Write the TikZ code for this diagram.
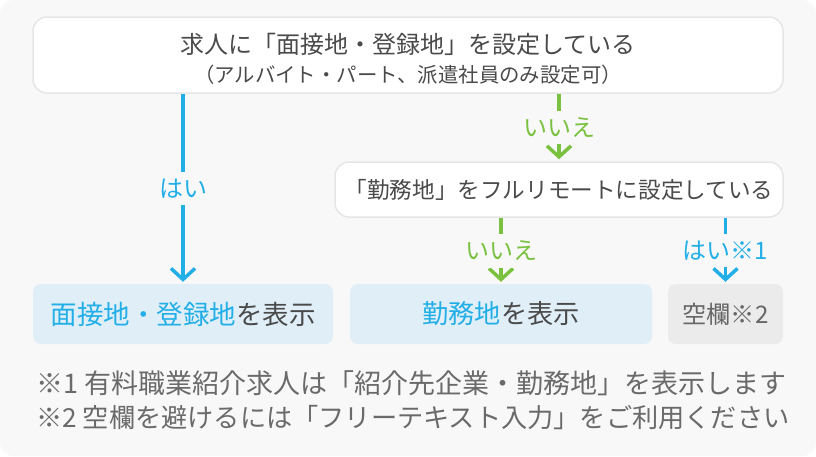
\documentclass[tikz,border=0pt]{standalone}
\usepackage{fontspec}
\setmainfont{Noto Sans CJK JP}
\usetikzlibrary{arrows.meta}
\definecolor{bg}{HTML}{F8F8F8}
\definecolor{boxline}{HTML}{E6E6E6}
\definecolor{txt}{HTML}{4A4A4A}
\definecolor{note}{HTML}{6A6A6A}
\definecolor{blu}{HTML}{22AEE6}
\definecolor{grn}{HTML}{7AC13F}
\definecolor{lblue}{HTML}{E0EEF8}
\definecolor{lgrey}{HTML}{EBEBEB}
\definecolor{gtxt}{HTML}{666666}
\tikzset{
  qbox/.style={draw=boxline, line width=1.5pt, fill=white, rounded corners=14pt, text=txt, align=center, inner sep=0pt},
  qtext/.style={text=txt, inner sep=0pt},
  rbox/.style={fill=lblue, rounded corners=8pt, text=txt, inner sep=0pt, minimum height=60pt},
  gbox/.style={fill=lgrey, rounded corners=8pt, text=gtxt, inner sep=0pt, minimum height=60pt},
  conn/.style={line width=3.5pt, -{Straight Barb[length=11pt,width=24pt]}, shorten >=2pt},
  bconn/.style={conn, draw=blu},
  gconn/.style={conn, draw=grn},
  lbl/.style={fill=bg, inner xsep=2pt, inner ysep=7pt, font=\fontsize{24}{26}\selectfont},
  fnote/.style={anchor=west, text=note, inner sep=0pt},
}
\begin{document}
\begin{tikzpicture}[x=1pt,y=-1pt]
\fill[white] (0,0) rectangle (816,456);
\fill[bg, rounded corners=14pt] (0,0) rectangle (816,456);
\useasboundingbox (0,0) rectangle (816,456);

\node[qbox, minimum width=750pt, minimum height=76pt] (q1) at (408,55) {};
\node[qtext, font=\fontsize{24}{26}\selectfont] (t1) at (408,44) {求人に「面接地・登録地」を設定している};
\node[qtext, font=\fontsize{20.4}{22}\selectfont] (t2) at (408,75) {（アルバイト・パート、派遣社員のみ設定可）};
\node[qbox, minimum width=448pt, minimum height=55pt, font=\fontsize{22.6}{24}\selectfont] (q2) at (559,189.5)
  {「勤務地」をフルリモートに設定している};

\node[rbox, minimum width=300pt, font=\fontsize{26.5}{28}\selectfont] (r1) at (183,314) {\textcolor{blu}{面接地・登録地}を表示};
\node[rbox, minimum width=302pt, font=\fontsize{26.2}{28}\selectfont] (r2) at (501,314) {\textcolor{blu}{勤務地}を表示};
\node[gbox, minimum width=115pt, font=\fontsize{24.2}{26}\selectfont] (r3) at (725.5,314) {空欄※2};

\draw[bconn] (q1.south -| r1.north) -- (r1.north) node[midway, lbl, text=blu] {はい};
\draw[gconn] (q1.south -| q2.north) -- (q2.north) node[midway, lbl, text=grn] {いいえ};
\draw[gconn] (q2.south -| r2.north) -- (r2.north) node[midway, lbl, text=grn] {いいえ};
\draw[bconn] (q2.south -| r3.north) -- (r3.north) node[midway, lbl, text=blu] {はい※1};

\node[fnote, font=\fontsize{27}{29}\selectfont] (n1) at (36,383) {※1 有料職業紹介求人は「紹介先企業・勤務地」を表示します};
\node[fnote, font=\fontsize{26.2}{29}\selectfont] (n2) at (36,418) {※2 空欄を避けるには「フリーテキスト入力」をご利用ください};
\end{tikzpicture}
\end{document}
